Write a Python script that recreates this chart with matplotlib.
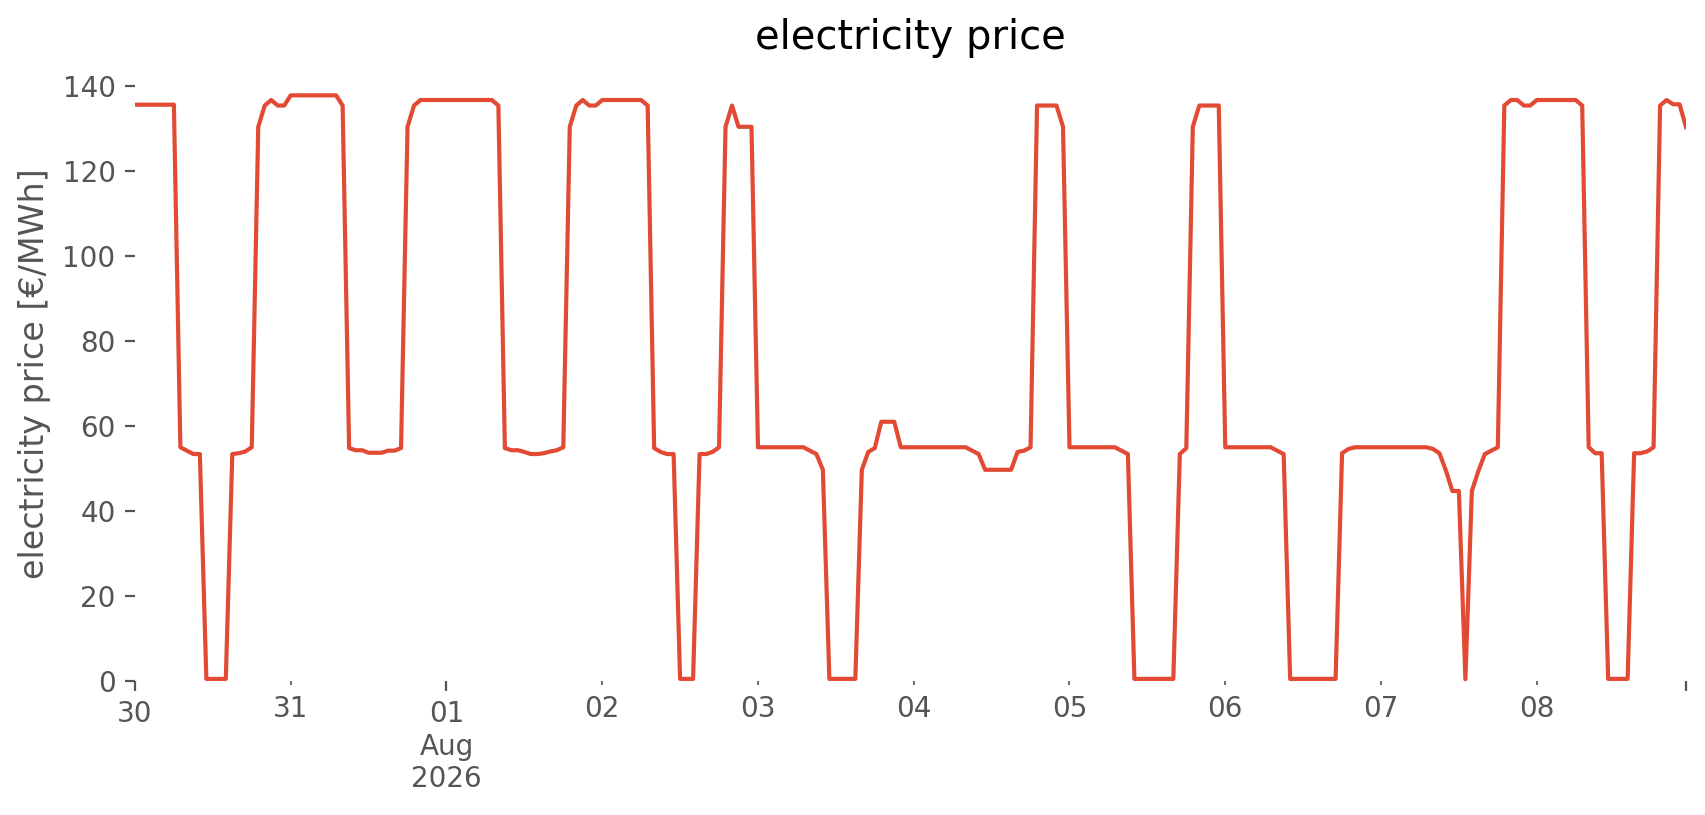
import pandas as pd
import numpy as np
import matplotlib
matplotlib.use("Agg")
from matplotlib import pyplot as plt

# hourly prices, one list per day (Jul 30 .. Aug 8 2026)
jul30 = [135.6, 135.6, 135.6, 135.6, 135.6, 135.6, 135.6, 55.0, 54.2, 53.4, 53.4, 0.5,
         0.5, 0.5, 0.5, 53.4, 53.6, 54.0, 55.0, 130.4, 135.4, 136.7, 135.4, 135.4]
jul31 = [137.8, 137.8, 137.8, 137.8, 137.8, 137.8, 137.8, 137.8, 135.4, 54.8, 54.3, 54.3,
         53.7, 53.7, 53.7, 54.2, 54.2, 54.8, 130.4, 135.4, 136.7, 136.7, 136.7, 136.7]
aug01 = [136.7, 136.7, 136.7, 136.7, 136.7, 136.7, 136.7, 136.7, 135.4, 54.8, 54.3, 54.3,
         53.9, 53.4, 53.4, 53.6, 54.0, 54.3, 55.0, 130.4, 135.4, 136.7, 135.4, 135.4]
aug02 = [136.7, 136.7, 136.7, 136.7, 136.7, 136.7, 136.7, 135.4, 54.8, 53.9, 53.4, 53.4,
         0.5, 0.5, 0.5, 53.4, 53.4, 53.9, 55.0, 130.4, 135.4, 130.4, 130.4, 130.4]
aug03 = [55.0, 55.0, 55.0, 55.0, 55.0, 55.0, 55.0, 55.0, 54.2, 53.4, 49.7, 0.5,
         0.5, 0.5, 0.5, 0.5, 49.7, 53.9, 54.8, 61.0, 61.0, 61.0, 55.0, 55.0]
aug04 = [55.0, 55.0, 55.0, 55.0, 55.0, 55.0, 55.0, 55.0, 55.0, 54.2, 53.4, 49.7,
         49.7, 49.7, 49.7, 49.7, 53.9, 54.2, 55.0, 135.4, 135.4, 135.4, 135.4, 130.4]
aug05 = [55.0, 55.0, 55.0, 55.0, 55.0, 55.0, 55.0, 55.0, 54.2, 53.4, 0.5, 0.5,
         0.5, 0.5, 0.5, 0.5, 0.5, 53.4, 54.8, 130.4, 135.4, 135.4, 135.4, 135.4]
aug06 = [55.0, 55.0, 55.0, 55.0, 55.0, 55.0, 55.0, 55.0, 54.2, 53.4, 0.5, 0.5,
         0.5, 0.5, 0.5, 0.5, 0.5, 0.5, 53.6, 54.6, 55.0, 55.0, 55.0, 55.0]
aug07 = [55.0, 55.0, 55.0, 55.0, 55.0, 55.0, 55.0, 55.0, 54.6, 53.6, 49.5, 44.7,
         44.7, 0.4, 44.7, 49.4, 53.4, 54.2, 55.0, 135.4, 136.7, 136.7, 135.4, 135.4]
aug08 = [136.7, 136.7, 136.7, 136.7, 136.7, 136.7, 136.7, 135.4, 55.0, 53.6, 53.6, 0.5,
         0.5, 0.5, 0.5, 53.6, 53.6, 54.0, 55.0, 135.4, 136.7, 135.7, 135.7, 130.3]

price = jul30 + jul31 + aug01 + aug02 + aug03 + aug04 + aug05 + aug06 + aug07 + aug08
times = pd.date_range("2026-07-30 00:00", periods=len(price), freq="h")

major_labels = ["30", "01\nAug\n2026", ""]
minor_labels = ["31", "02", "03", "04", "05", "06", "07", "08"]
y_ticks = [0, 20, 40, 60, 80, 100, 120, 140]

plt.style.use("ggplot")
plt.rcParams["font.family"] = ["DejaVu Sans"]

fig = plt.figure(figsize=(8.53, 4.075), dpi=200)
ax = fig.add_axes([0.0791, 0.1644, 0.9092, 0.7546])
ax.set_facecolor("white")
ax.grid(False)
for s in ax.spines.values():
    s.set_visible(False)

ax.plot(times, price, color="#E24A33", linewidth=1.5)

days = pd.date_range("2026-07-30", periods=10, freq="D")
major_pos = [times[0], pd.Timestamp("2026-08-01"), times[-1]]
minor_pos = [d for d in days if d not in major_pos]
ax.set_xticks(major_pos, labels=major_labels)
ax.set_xticks(minor_pos, labels=minor_labels, minor=True)
ax.set_xlim(times[0], times[-1])
ax.tick_params(axis="x", which="major", length=3.5, labelsize=10, colors="#555555")
ax.tick_params(axis="x", which="minor", length=1.5, labelsize=10, colors="#555555")

ax.set_yticks(y_ticks)
ax.set_ylim(0, 144.7)
ax.tick_params(axis="y", labelsize=10, colors="#555555")

ax.set_ylabel("electricity price [€/MWh]", fontsize=12, color="#555555")
ax.set_title("electricity price", fontsize=14.4, color="black")

fig.savefig("out.png", dpi=200)
plt.close(fig)
